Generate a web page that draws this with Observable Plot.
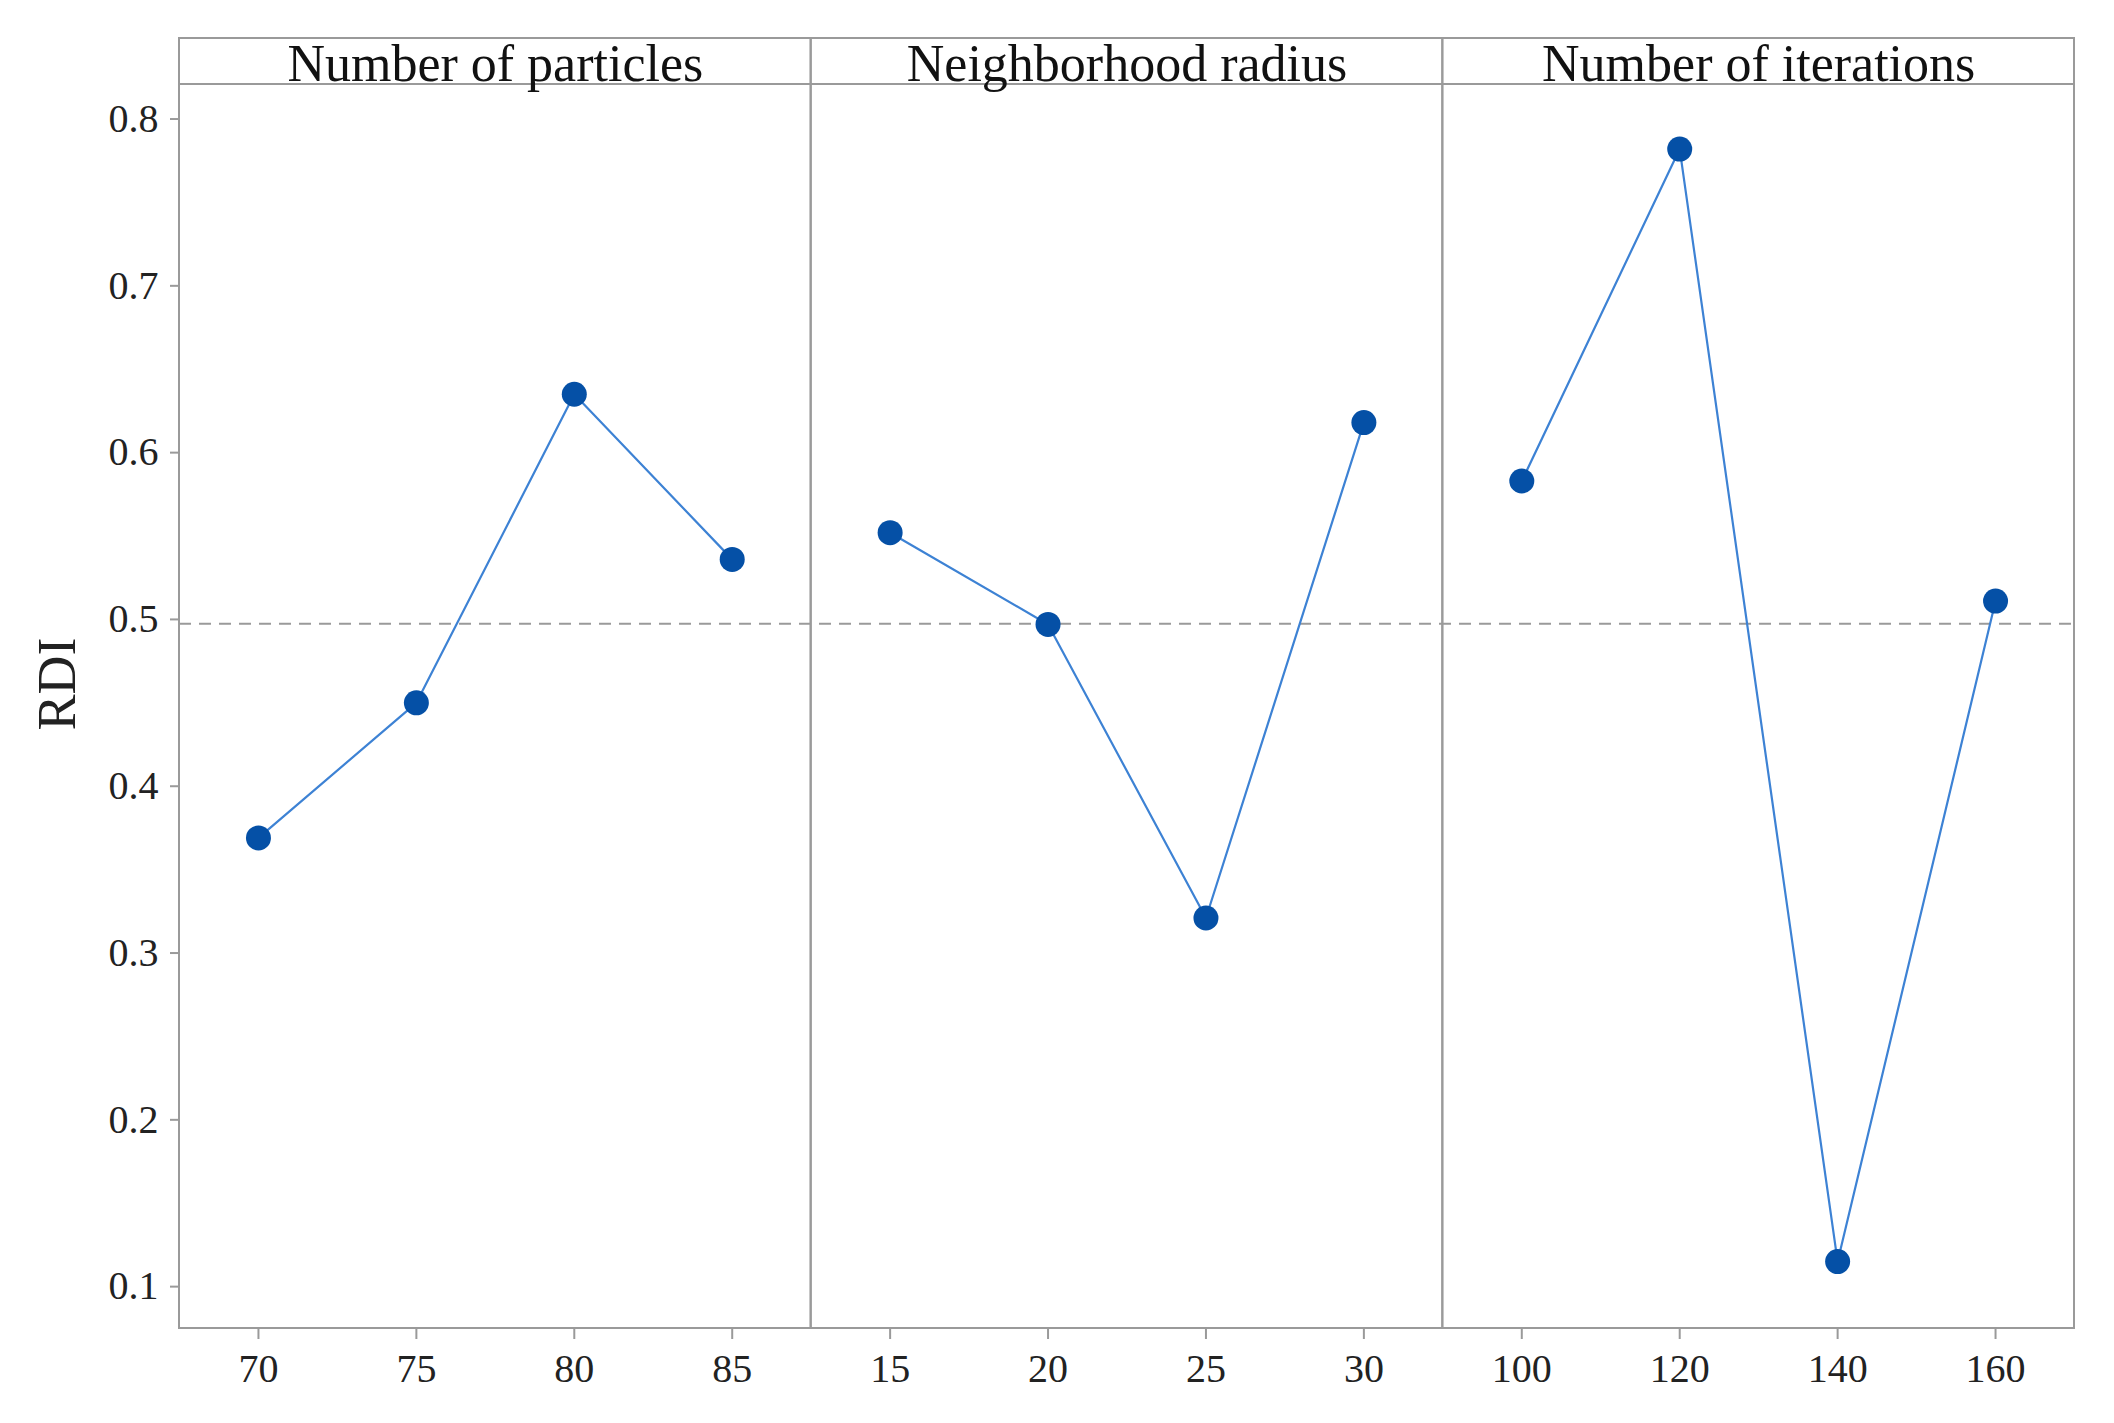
<!DOCTYPE html>
<html>
<head>
<meta charset="utf-8">
<script src="https://cdn.jsdelivr.net/npm/d3@7"></script>
<script src="https://cdn.jsdelivr.net/npm/@observablehq/plot@0.6"></script>
<style>
  html, body { margin: 0; padding: 0; background: #fff; }
  #chart svg { display: block; }
</style>
</head>
<body>
<div id="chart"></div>
<script>
// ---- data ----
const factors = ["Number of particles", "Neighborhood radius", "Number of iterations"];
const particleLevels = [70, 75, 80, 85];
const particleRDI = [0.369, 0.450, 0.635, 0.536];
const radiusLevels = [15, 20, 25, 30];
const radiusRDI = [0.552, 0.497, 0.321, 0.618];
const iterationLevels = [100, 120, 140, 160];
const iterationRDI = [0.583, 0.782, 0.115, 0.511];
const yTicks = [0.1, 0.2, 0.3, 0.4, 0.5, 0.6, 0.7, 0.8];

// ---- build table ----
const groups = [
  {factor: factors[0], levels: particleLevels, values: particleRDI},
  {factor: factors[1], levels: radiusLevels, values: radiusRDI},
  {factor: factors[2], levels: iterationLevels, values: iterationRDI}
];
const rows = [];
const panels = [];
let idx = 0;
for (const g of groups) {
  const start = idx;
  g.levels.forEach((lv, i) => { rows.push({factor: g.factor, level: lv, rdi: g.values[i], idx: idx}); idx++; });
  panels.push({factor: g.factor, x1: start - 0.5, x2: idx - 0.5, xc: (start + idx - 1) / 2});
}
const labels = rows.map(d => String(d.level));
const meanRDI = d3.mean(rows, d => d.rdi);

// ---- layout ----
const W = 2114, H = 1423;
const mL = 179, mR = 40, mT = 84, mB = 95;
const yDomain = [0.0749, 0.8207];
const unitPerPx = (yDomain[1] - yDomain[0]) / (H - mT - mB);
const stripPx = 46;
const yTop = yDomain[1];
const yStripTop = yTop + stripPx * unitPerPx;
const yBottom = yDomain[0];

const gray = "#9a9a9a";
const lineBlue = "#3d82d4";
const dotBlue = "#0550a6";

const chart = Plot.plot({
  width: W,
  height: H,
  marginLeft: mL,
  marginRight: mR,
  marginTop: mT,
  marginBottom: mB,
  x: {domain: [-0.5, idx - 0.5]},
  y: {domain: yDomain},
  style: {fontFamily: "'Liberation Serif', serif", color: "#222", background: "#fff"},
  marks: [
    // panel frames (plot area)
    Plot.rect(panels, {x1: "x1", x2: "x2", y1: yBottom, y2: yTop, fill: "none", stroke: gray, strokeWidth: 2}),
    // strip headers
    Plot.rect(panels, {x1: "x1", x2: "x2", y1: yTop, y2: yStripTop, fill: "none", stroke: gray, strokeWidth: 2}),
    Plot.text(panels, {x: "xc", y: (yTop + yStripTop) / 2, text: "factor", fontSize: 52, dy: 3, fill: "#111"}),
    // mean reference
    Plot.ruleY([meanRDI], {stroke: gray, strokeWidth: 2, strokeDasharray: "12,8"}),
    // axes
    Plot.axisY({ticks: yTicks, tickSize: 9, tickPadding: 12, fontSize: 40, stroke: gray, strokeWidth: 2, tickFormat: d3.format(".1f"), label: null, fill: "#222"}),
    Plot.axisX({ticks: rows.map(d => d.idx), tickFormat: i => labels[i], tickSize: 11, tickPadding: 14, fontSize: 40, stroke: gray, strokeWidth: 2, label: null, fill: "#222"}),
    Plot.text(["RDI"], {frameAnchor: "left", dx: -122, dy: 24, rotate: -90, fontSize: 54, fill: "#222"}),
    // data
    Plot.line(rows, {x: "idx", y: "rdi", z: "factor", stroke: lineBlue, strokeWidth: 2.2}),
    Plot.dot(rows, {x: "idx", y: "rdi", r: 12.5, fill: dotBlue, stroke: "none"})
  ]
});
document.getElementById("chart").appendChild(chart);
</script>
</body>
</html>
